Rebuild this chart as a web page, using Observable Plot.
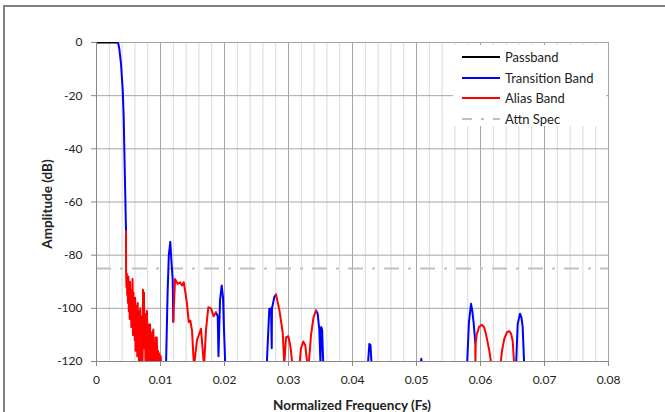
<!DOCTYPE html>
<html><head><meta charset="utf-8">
<script src="https://cdn.jsdelivr.net/npm/d3@7"></script>
<script src="https://cdn.jsdelivr.net/npm/@observablehq/plot@0.6"></script>
<style>
html,body{margin:0;padding:0;background:#fff;}
#wrap{position:relative;width:665px;height:412px;overflow:hidden;font-family:Lato,"Open Sans",sans-serif;}
#border{position:absolute;left:3px;top:5px;width:700px;height:500px;border-top:2px solid #808080;border-left:2px solid #808080;}
#chart{position:absolute;left:0;top:0;}
#legend{position:absolute;left:453px;top:45px;width:153px;height:81px;background:#fff;}
.item{position:absolute;left:0;height:20px;display:flex;align-items:center;font-size:13px;color:#222;white-space:nowrap;}
.item svg{margin-left:9px;margin-right:5px;}
.title{position:absolute;font-weight:bold;font-size:13.5px;color:#222;white-space:nowrap;transform-origin:center center;}
</style></head>
<body><div id="wrap"><div id="border"></div><div id="chart"></div><div id="legend"></div>
<div id="xtitle" class="title"></div><div id="ytitle" class="title"></div></div>
<script>
// ---- data ----
const xTicks = [0, 0.01, 0.02, 0.03, 0.04, 0.05, 0.06, 0.07, 0.08];
const yTicks = [0, -20, -40, -60, -80, -100, -120];
const attnSpec = -85;
const bands = ["Passband", "Transition Band", "Alias Band", "Attn Spec"];
const bandColors = ["#000000", "#0000ff", "#ff0000", "#bfbfbf"];

const passband = [[0, 0], [0.0032, 0]];

const transitionBand = [
  [[0.0032,0],[0.0034,-0.3],[0.00357,-2.4],[0.00383,-8],[0.0041,-18],[0.00425,-28],[0.00434,-39],[0.00443,-50],[0.0045,-58],[0.00461,-71]],
  [[0.01086,-122],[0.0111,-95],[0.0113,-80],[0.01153,-75],[0.0117,-82],[0.0119,-89],[0.0120,-105]],
  [[0.01867,-101.5],[0.01894,-103],[0.01906,-118],[0.0193,-97],[0.01956,-91.4],[0.01977,-96],[0.01992,-108],[0.02013,-122]],
  [[0.02659,-122],[0.0270,-100.2],[0.02727,-100],[0.02738,-115],[0.02742,-100],[0.02778,-95.8],[0.02805,-94.8]],
  [[0.0343,-100.8],[0.03456,-102],[0.0348,-107.7],[0.0350,-121],[0.0351,-107],[0.03525,-108],[0.03545,-122]],
  [[0.04238,-122],[0.04263,-113.4],[0.04281,-113.8],[0.043,-122]],
  [[0.05063,-122],[0.05075,-119],[0.05086,-122]],
  [[0.05789,-122],[0.0582,-105],[0.05852,-98.3],[0.05872,-101],[0.05894,-105.8],[0.05919,-113]],
  [[0.06555,-122],[0.06581,-106],[0.06617,-102],[0.0664,-103.5],[0.06659,-107],[0.06684,-122]]
];

const aliasBand = [
  [[0.00461,-71],[0.00462,-86],[0.00468,-92],[0.00474,-87],[0.0048,-95],[0.00486,-88.5],[0.00492,-98],[0.00498,-88],[0.00505,-101],[0.00512,-92],[0.00518,-104],[0.00524,-90],[0.0053,-99],[0.00537,-93],[0.00544,-107],[0.0055,-96],[0.00556,-103],[0.00563,-89],[0.0057,-110],[0.00577,-94],[0.00583,-105],[0.0059,-97],[0.00597,-112],[0.00604,-96],[0.0061,-116],[0.00617,-100],[0.00624,-108],[0.0063,-99],[0.00637,-118],[0.00644,-98],[0.0065,-110],[0.00657,-104],[0.00664,-122],[0.0067,-101],[0.00677,-112],[0.00684,-100],[0.00692,-122],[0.00699,-106],[0.00706,-117],[0.00713,-103],[0.0072,-122],[0.00727,-93],[0.00735,-110],[0.00742,-94],[0.0075,-115],[0.00757,-102],[0.00765,-122],[0.00772,-104],[0.0078,-122],[0.00788,-101],[0.00796,-113],[0.00804,-106],[0.00812,-122],[0.0082,-108],[0.00828,-118],[0.00836,-106],[0.00845,-122],[0.00853,-110],[0.00862,-122],[0.0087,-109],[0.00879,-120],[0.00888,-108],[0.00897,-122],[0.00906,-113],[0.00915,-122],[0.00924,-111],[0.00933,-122],[0.00942,-111],[0.00952,-122],[0.00962,-116],[0.00972,-122],[0.00982,-117],[0.00992,-122],[0.01003,-118],[0.01012,-122]],
  [[0.0120,-105],[0.01227,-89],[0.01269,-90.8],[0.01305,-90.2],[0.01336,-91.4],[0.01363,-90.2],[0.01388,-93.9],[0.01414,-98.3],[0.01441,-105.2],[0.01466,-104.6],[0.01492,-108.3],[0.01523,-122],[0.0157,-112],[0.01633,-107.7],[0.0168,-122],[0.01711,-108],[0.01747,-99.6],[0.01789,-100],[0.01831,-103],[0.01867,-101.5]],
  [[0.02805,-94.8],[0.02856,-100.5],[0.02909,-109],[0.02934,-121],[0.02961,-110.9],[0.02997,-110.5],[0.03028,-114],[0.03066,-122]],
  [[0.03169,-122],[0.03195,-115],[0.03231,-112.5],[0.03263,-114],[0.03289,-120],[0.03313,-122],[0.03352,-110],[0.0339,-103.5],[0.0343,-100.8]],
  [[0.05919,-113],[0.0592,-122],[0.05925,-113],[0.0594,-110],[0.05977,-107],[0.06019,-106.2],[0.06055,-107],[0.06086,-109.7],[0.06138,-116],[0.06175,-122]],
  [[0.06309,-122],[0.06336,-116],[0.06372,-111.4],[0.06414,-109],[0.0645,-108.6],[0.06477,-109.5],[0.06503,-112.2],[0.06528,-122]]
];

const xTitle = "Normalized Frequency (Fs)";
const yTitle = "Amplitude (dB)";

// ---- build table ----
const rows = [];
function addSeg(band, seg, id) { seg.forEach(([f, db]) => rows.push({band, seg: id, f, db})); }
addSeg("Passband", passband, "p");
transitionBand.forEach((s, i) => addSeg("Transition Band", s, "t" + i));
aliasBand.forEach((s, i) => addSeg("Alias Band", s, "a" + i));

const minorX = d3.range(0, 0.0801, 0.002).filter(v => Math.abs(v * 100 - Math.round(v * 100)) > 1e-6);
const attnDash = "15,9,3,9";

const chart = Plot.plot({
  width: 665, height: 412,
  marginLeft: 96, marginRight: 57, marginTop: 42, marginBottom: 51,
  style: {fontFamily: "Lato, 'Open Sans', sans-serif", fontSize: "12px", background: "transparent", color: "#222", overflow: "visible"},
  x: {domain: [0, 0.08]},
  y: {domain: [-120, 0]},
  color: {domain: bands, range: bandColors},
  marks: [
    Plot.ruleX(minorX, {stroke: "#d9d9d9"}),
    Plot.ruleX(xTicks, {stroke: "#a6a6a6"}),
    Plot.ruleY(yTicks, {stroke: "#a6a6a6"}),
    Plot.ruleY([attnSpec], {stroke: bandColors[3], strokeWidth: 2, strokeDasharray: attnDash}),
    Plot.line(rows, {x: "f", y: "db", z: "seg", stroke: "band", strokeWidth: 2, strokeLinejoin: "round", clip: true}),
    Plot.ruleX([0], {stroke: "#888"}),
    Plot.ruleY([-120], {stroke: "#888"}),
    Plot.axisX({ticks: xTicks, tickFormat: d => d === 0 ? "0" : d.toFixed(2), tickSize: 5, tickPadding: 9, label: null, stroke: "#888", fill: "#222"}),
    Plot.axisY({ticks: yTicks, tickFormat: d => String(d), tickSize: 5, tickPadding: 9, label: null, stroke: "#888", fill: "#222"})
  ]
});
document.getElementById("chart").appendChild(chart);

// ---- titles ----
const xt = document.getElementById("xtitle");
xt.textContent = xTitle;
xt.style.left = "352px"; xt.style.top = "405px";
xt.style.transform = "translate(-50%,-50%)";
const yt = document.getElementById("ytitle");
yt.textContent = yTitle;
yt.style.left = "47px"; yt.style.top = "204px";
yt.style.transform = "translate(-50%,-50%) rotate(-90deg)";

// ---- legend ----
const legend = document.getElementById("legend");
const rowTops = [2, 22.5, 43, 63.5];
bands.forEach((b, i) => {
  const div = document.createElement("div");
  div.className = "item";
  div.style.top = rowTops[i] + "px";
  const dash = b === "Attn Spec" ? ` stroke-dasharray="10,9,3,9,10"` : "";
  div.innerHTML = `<svg width="38" height="6"><line x1="0" y1="3" x2="38" y2="3" stroke="${bandColors[i]}" stroke-width="2"${dash}/></svg><span>${b}</span>`;
  legend.appendChild(div);
});
</script>
</body></html>
